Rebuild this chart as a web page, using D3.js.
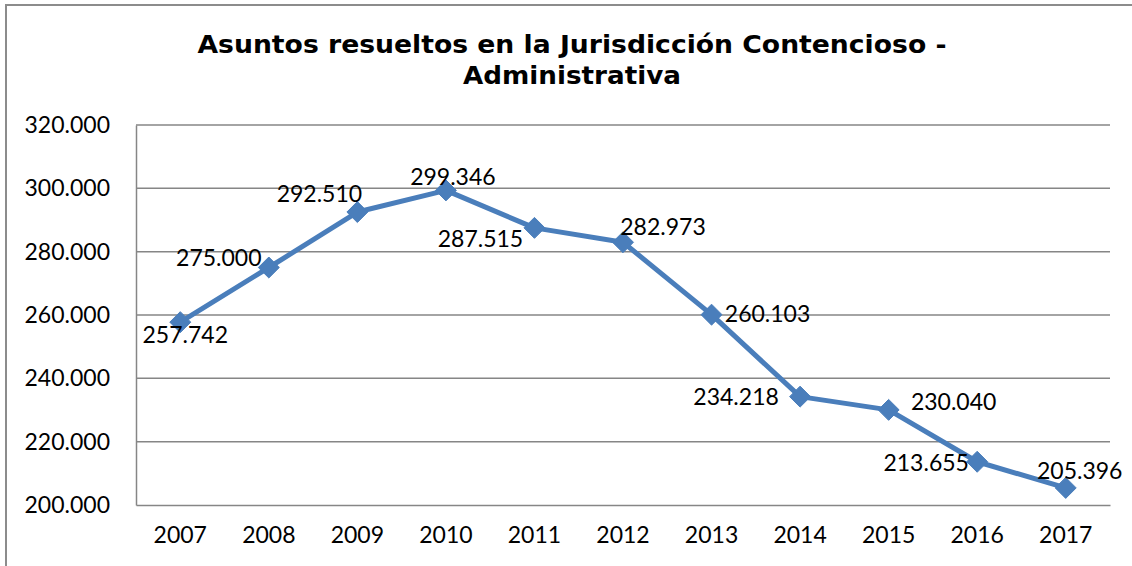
<!DOCTYPE html>
<html>
<head>
<meta charset="utf-8">
<script src="https://cdn.jsdelivr.net/npm/d3@7"></script>
<style>
  html, body { margin: 0; padding: 0; background: #fff; }
  svg { display: block; }
</style>
</head>
<body>
<svg id="chart" width="1132" height="566"></svg>
<script>
const titleLines = ["Asuntos resueltos en la Jurisdicción Contencioso -", "Administrativa"];
const years = ["2007", "2008", "2009", "2010", "2011", "2012", "2013", "2014", "2015", "2016", "2017"];
const values = [257742, 275000, 292510, 299346, 287515, 282973, 260103, 234218, 230040, 213655, 205396];
const yTicks = [200000, 220000, 240000, 260000, 280000, 300000, 320000];
// label placement offsets (px) relative to each point, as seen in the reference
const labelDx = [5, -50, -38, 7, -54, 40, 56, -64, 65, -51, 14];
const labelDy = [13, -10, -18, -13, 11, -15, -1, 0, -8, 1, -17];

const fmt = v => d3.format(",")(v).replace(/,/g, ".");

const svg = d3.select("#chart");
const W = 1132, H = 566;
const plot = { left: 136, right: 1110, top: 125, bottom: 505 };
const font = "Lato, 'Open Sans', sans-serif";
const lineColor = "#4a7ebb";

// outer chart frame
svg.append("rect").attr("x", 6).attr("y", 5).attr("width", W + 10).attr("height", H + 10)
  .attr("fill", "#fff").attr("stroke", "#8c8c8c").attr("stroke-width", 2);

// title
const title = svg.append("text").attr("text-anchor", "middle")
  .attr("font-family", "'DejaVu Sans', Verdana, sans-serif").attr("font-weight", "bold")
  .attr("font-size", 25).attr("fill", "#000");
const titleY = [53, 84];
const titleW = [749, 218];
titleLines.forEach((t, i) => {
  title.append("tspan").attr("x", 572).attr("y", titleY[i]).text(t)
    .attr("textLength", titleW[i]).attr("lengthAdjust", "spacingAndGlyphs");
});

const x = d3.scaleBand().domain(years).range([plot.left, plot.right]);
const y = d3.scaleLinear().domain([200000, 320000]).range([plot.bottom, plot.top]);

// gridlines
svg.append("g").selectAll("line").data(yTicks.slice(1)).join("line")
  .attr("x1", plot.left).attr("x2", plot.right)
  .attr("y1", d => y(d)).attr("y2", d => y(d))
  .attr("stroke", "#868686").attr("stroke-width", 1.5);

// y axis
const yAxis = svg.append("g").attr("transform", `translate(${plot.left},0)`)
  .call(d3.axisLeft(y).tickValues(yTicks).tickFormat(fmt).tickSize(0).tickPadding(26));
yAxis.select(".domain").attr("stroke", "#868686").attr("stroke-width", 1.5);
yAxis.selectAll("text").attr("font-family", font).attr("font-size", 23).attr("fill", "#000");

// x axis
const xAxis = svg.append("g").attr("transform", `translate(0,${plot.bottom})`)
  .call(d3.axisBottom(x).tickSize(0).tickPadding(22));
xAxis.select(".domain").attr("stroke", "#868686").attr("stroke-width", 1.5);
xAxis.selectAll("text").attr("font-family", font).attr("font-size", 23).attr("fill", "#000");

const cx = (d, i) => x(years[i]) + x.bandwidth() / 2;

// line
const pts = values.map((v, i) => [cx(v, i), y(v)]);
svg.append("path").attr("d", d3.line()(pts)).attr("fill", "none")
  .attr("stroke", lineColor).attr("stroke-width", 5).attr("stroke-linejoin", "round");

// markers
svg.append("g").selectAll("path").data(values).join("path")
  .attr("d", d3.symbol().type(d3.symbolDiamond2).size(280))
  .attr("transform", (d, i) => `translate(${cx(d, i)},${y(d)})`)
  .attr("fill", lineColor).attr("stroke", lineColor).attr("stroke-width", 1);

// data labels
svg.append("g").selectAll("text").data(values).join("text")
  .attr("x", (d, i) => cx(d, i) + labelDx[i])
  .attr("y", (d, i) => y(d) + labelDy[i])
  .attr("dy", "0.35em").attr("text-anchor", "middle")
  .attr("font-family", font).attr("font-size", 23).attr("fill", "#000")
  .text(d => fmt(d));
</script>
</body>
</html>
